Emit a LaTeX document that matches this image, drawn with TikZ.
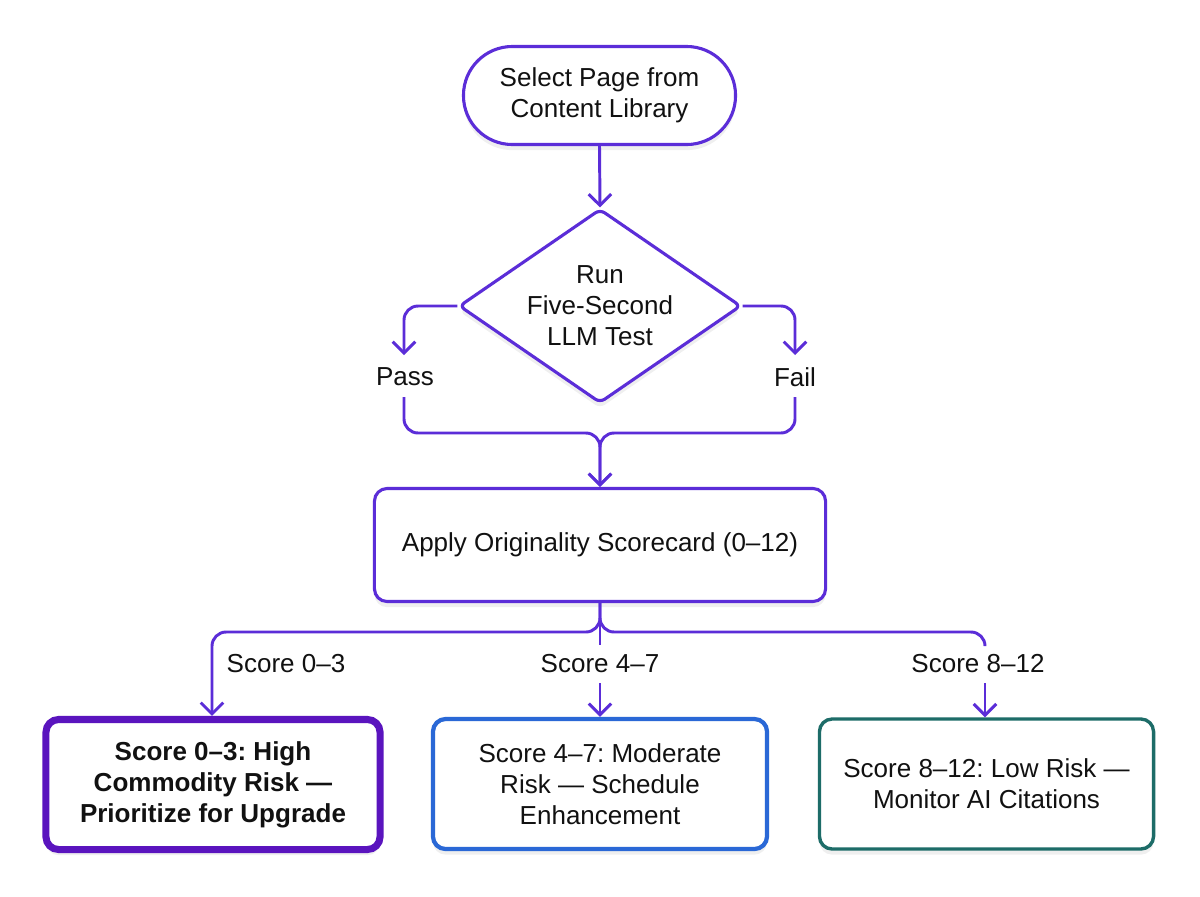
\documentclass[tikz,border=0pt]{standalone}
\usepackage{fontspec}
\setmainfont{Liberation Sans}
\frenchspacing
\usetikzlibrary{arrows.meta,shapes.geometric,shadows}
\definecolor{flow}{HTML}{5B2DD8}
\definecolor{deep}{HTML}{5A14BE}
\definecolor{bluebox}{HTML}{2A68D6}
\definecolor{tealbox}{HTML}{1D6C68}
\definecolor{txt}{HTML}{111111}
\tikzset{
  x=0.025cm, y=-0.025cm,
  every node/.style={font=\fontsize{18.5pt}{22pt}\selectfont\frenchspacing, text=txt, align=center},
  shade/.style={drop shadow={opacity=0.12, shadow xshift=0pt, shadow yshift=-4pt}},
  conn/.style={draw=flow, line width=2.1pt, rounded corners=10pt},
  arr/.style={conn, -{Straight Barb[length=8pt,width=16pt,line width=2.1pt]}},
  lbl/.style={inner sep=1pt},
  startbox/.style={draw=flow, line width=2.2pt, fill=white, shade, rounded corners=1.22cm,
     minimum width=6.8cm, minimum height=2.45cm, inner sep=0pt},
  decbox/.style={diamond, draw=flow, line width=2.2pt, fill=white, shade, rounded corners=4pt,
     minimum width=7.05cm, minimum height=4.85cm, inner sep=0pt, aspect=1.44},
  procbox/.style={draw=flow, line width=2.2pt, fill=white, shade, rounded corners=9pt,
     minimum width=11.275cm, minimum height=2.825cm, inner sep=0pt},
  outbox/.style={fill=white, shade, rounded corners=9pt,
     minimum width=8.35cm, minimum height=3.25cm, inner sep=0pt},
}
\begin{document}
\begin{tikzpicture}
\useasboundingbox[fill=white] (0,0) rectangle (1200,896);

\node[startbox] (start) at (599.5,95.5) {Select Page from\\Content Library};
\node[decbox] (dec) at (600,306) {Run\\Five-Second\\LLM Test};
\node[procbox] (apply) at (600,545) {Apply Originality Scorecard (0–12)};

\node[outbox, draw=deep, line width=5pt] (hi) at (213,784.5)
  {\bfseries Score 0–3: High\\\bfseries Commodity Risk —\\\bfseries Prioritize for Upgrade};
\node[outbox, draw=bluebox, line width=3pt] (mid) at (600,784)
  {Score 4–7: Moderate\\Risk — Schedule\\Enhancement};
\node[outbox, draw=tealbox, line width=2.4pt] (low) at (986.5,784)
  {Score 8–12: Low Risk —\\Monitor AI Citations};

% Pass / Fail labels
\node[lbl] (pass) at (405,377) {Pass};
\node[lbl] (fail) at (795,377) {Fail};
\coordinate (pa) at (404,355);
\coordinate (pb) at (404,397);
\coordinate (fa) at (795,355);
\coordinate (fb) at (795,397);
\coordinate (merge) at (600,433);

% start -> decision
\draw[arr] (start.south) -- (dec.north);
% decision -> pass / fail
\draw[arr] (dec.west) -| (pa);
\draw[arr] (dec.east) -| (fa);
% pass / fail -> apply
\draw[arr] (pb) |- (merge) -- (apply.north);
\draw[arr] (fb) |- (merge) -- (apply.north);

% score labels
\node[lbl] (s03) at (286,664) {Score 0–3};
\node[lbl] (s47) at (600,664) {Score 4–7};
\node[lbl] (s812) at (978,664) {Score 8–12};
\coordinate (sl) at (212,632);
\coordinate (sr) at (985,632);
\coordinate (m1) at (600,645);
\coordinate (m2) at (600,683);
\coordinate (r1) at (985,645);
\coordinate (r2) at (985,683);

\draw[arr] (apply.south) |- (sl) -- (sl |- hi.north);
\draw[conn] (apply.south) |- (sr) -- (r1);
\draw[conn] (apply.south) -- (m1);
\draw[arr] (m2) -- (mid.north);
\draw[arr] (r2) -- (r2 |- low.north);
\end{tikzpicture}
\end{document}
